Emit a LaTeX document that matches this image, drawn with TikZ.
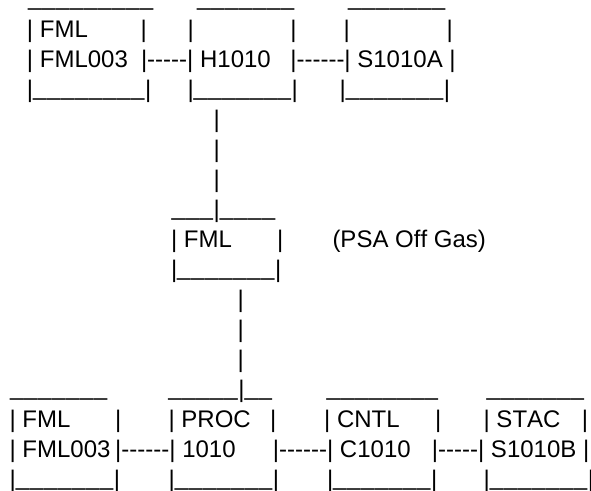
\documentclass[tikz,border=0pt]{standalone}
\usepackage{fontspec}
\setmainfont{Liberation Sans}[Ligatures={TeXOff,NoCommon},Kerning=Off]
\usetikzlibrary{math}
\newcommand{\uscore}[1]{\raisebox{2.5pt}{\foreach \i in {1,...,#1}{\makebox[14pt][l]{\_}}}}

\begin{document}
\begin{tikzpicture}[x=1pt,y=-1pt,
  txt/.style={anchor=base west,inner sep=0pt,outer sep=0pt,font=\fontsize{24}{30}\selectfont}]
\tikzmath{
\yb=7.5;
\dy=30;
}
\useasboundingbox (0,0) rectangle (591,490);

% top row of boxes
\node[txt] (lidA) at (28,\yb) {\uscore{9}};
\node[txt] (lidB) at (197,\yb) {\uscore{7}};
\node[txt] (lidC) at (348,\yb) {\uscore{7}};
\node[txt] (fmlA) at (27,{\yb+\dy}) {| FML};
\node[txt] (fmlAr) at (140.5,{\yb+\dy}) {|};
\node[txt] (hA) at (187.5,{\yb+\dy}) {|};
\node[txt] (hAr) at (290.3,{\yb+\dy}) {|};
\node[txt] (sA) at (343.7,{\yb+\dy}) {|};
\node[txt] (sAr) at (446.5,{\yb+\dy}) {|};
\node[txt] (fmlB) at (27,{\yb+2*\dy}) {| FML003};
\node[txt] (hB) at (141,{\yb+2*\dy}) {|-----| H1010};
\node[txt] (sB) at (290.3,{\yb+2*\dy}) {|------| S1010A |};
\node[txt] (fmlC) at (27,{\yb+3*\dy}) {|\uscore{8}|};
\node[txt] (hC) at (187.5,{\yb+3*\dy}) {|\uscore{7}|};
\node[txt] (sC) at (339.7,{\yb+3*\dy}) {|\uscore{7}|};

% H1010 down to FML
\foreach \k in {4,5,6}
  \node[txt] (upLink\k) at (213.6,{\yb+\k*\dy}) {|};
\node[txt] (midLid) at (171.7,{\yb+7*\dy}) {\uscore{3}|\uscore{4}};
\node[txt] (midA) at (171,{\yb+8*\dy}) {| FML};
\node[txt] (midAr) at (277,{\yb+8*\dy}) {|};
\node[txt] (psa) at (332.5,{\yb+8*\dy}) {(PSA Off Gas)};
\node[txt] (midB) at (171,{\yb+9*\dy}) {|\uscore{7}|};

% FML down to PROC
\foreach \k in {10,11,12}
  \node[txt] (dnLink\k) at (237.6,{\yb+\k*\dy}) {|};

% bottom row of boxes
\node[txt] (lidD) at (10,{\yb+13*\dy}) {\uscore{7}};
\node[txt] (lidE) at (168.3,{\yb+13*\dy}) {\uscore{5}|\uscore{2}};
\node[txt] (lidF) at (326.7,{\yb+13*\dy}) {\uscore{8}};
\node[txt] (lidG) at (486.7,{\yb+13*\dy}) {\uscore{7}};
\node[txt] (fmlD) at (9.6,{\yb+14*\dy}) {| FML};
\node[txt] (fmlDr) at (115.2,{\yb+14*\dy}) {|};
\node[txt] (procA) at (168.6,{\yb+14*\dy}) {| PROC};
\node[txt] (procAr) at (270.2,{\yb+14*\dy}) {|};
\node[txt] (cntlA) at (324.2,{\yb+14*\dy}) {| CNTL};
\node[txt] (cntlAr) at (435.2,{\yb+14*\dy}) {|};
\node[txt] (stacA) at (483.6,{\yb+14*\dy}) {| STAC};
\node[txt] (stacAr) at (581.9,{\yb+14*\dy}) {|};
\node[txt] (fmlE) at (9.6,{\yb+15*\dy}) {| FML003};
\node[txt] (procB) at (115.2,{\yb+15*\dy}) {|------| 1010};
\node[txt] (cntlB) at (272.9,{\yb+15*\dy}) {|------| C1010};
\node[txt] (stacB) at (431.9,{\yb+15*\dy}) {|-----| S1010B |};
\node[txt] (fmlF) at (9.6,{\yb+16*\dy}) {|\uscore{7}|};
\node[txt] (procC) at (168.6,{\yb+16*\dy}) {|\uscore{7}|};
\node[txt] (cntlC) at (327,{\yb+16*\dy}) {|\uscore{7}|};
\node[txt] (stacC) at (483.6,{\yb+16*\dy}) {|\uscore{7}|};
\end{tikzpicture}
\end{document}
